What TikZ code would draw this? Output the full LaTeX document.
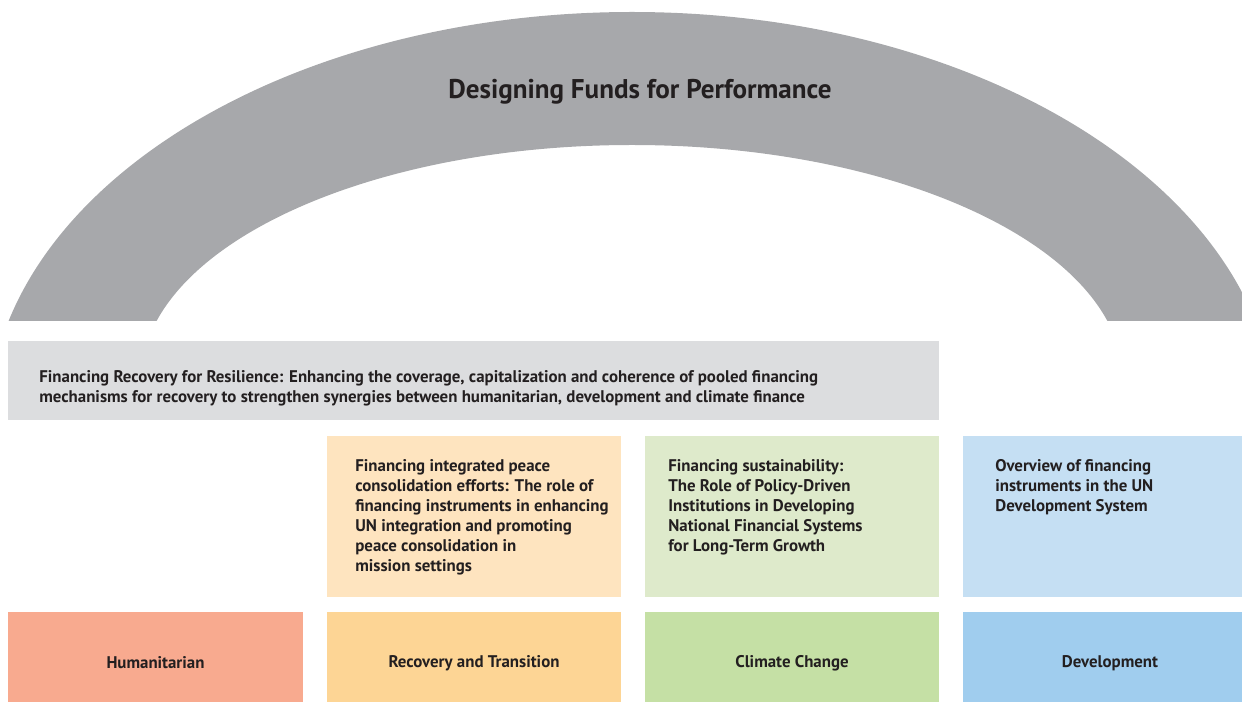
\documentclass[tikz,border=0pt]{standalone}
\usepackage{fontspec}
\setmainfont{PT Sans}
\usepackage{tikz}
\usetikzlibrary{positioning}

\definecolor{archgrey}{HTML}{A7A8AB}
\definecolor{bandgrey}{HTML}{DCDDDF}
\definecolor{peachlt}{HTML}{FEE4BF}
\definecolor{greenlt}{HTML}{DEEACB}
\definecolor{bluelt}{HTML}{C5DFF3}
\definecolor{salmon}{HTML}{F8AA8F}
\definecolor{peach}{HTML}{FDD595}
\definecolor{leaf}{HTML}{C5E0A5}
\definecolor{sky}{HTML}{A0CDEE}
\definecolor{ink}{HTML}{231F20}

\tikzset{
    cell/.style={rectangle, inner sep=0pt, text=ink, font=\bfseries\fontsize{9.6pt}{11.34pt}\selectfont},
    blurb/.style={inner sep=0pt, anchor=north west, align=left, text=ink, font=\bfseries\fontsize{9.6pt}{11.34pt}\selectfont}
}

\begin{document}
\begin{tikzpicture}[x=0.02cm, y=-0.02cm]
                                \useasboundingbox (0, 0) rectangle (1242, 702);
                                \begin{scope}
                                    \clip (0, 0) rectangle (1242, 321);
                                    \fill[archgrey, even odd rule] (632, 425) ellipse [x radius=644, y radius=413]
                                        (632, 380) ellipse [x radius=491, y radius=235];
                                \end{scope}
                                \node[text=ink, font=\bfseries\fontsize{15.4pt}{18pt}\selectfont] (title) at (640, 92) {Designing Funds for Performance};
                                \node[cell, fill=bandgrey, minimum width=18.62cm, minimum height=1.58cm] (band) at (473.5, 380.5) {};
                                \node[blurb] (bandtext) at (39, 370.5) {Financing Recovery for Resilience: Enhancing the coverage, capitalization and coherence of pooled financing\\
                                    mechanisms for recovery to strengthen synergies between humanitarian, development and climate finance};
                                \node[cell, fill=peachlt, minimum width=5.88cm, minimum height=3.22cm] (peace) at (474, 516.5) {};
                                \node[cell, fill=greenlt, minimum width=5.88cm, minimum height=3.22cm] (sustain) at (792, 516.5) {};
                                \node[cell, fill=bluelt, minimum width=5.88cm, minimum height=3.22cm] (overview) at (1110, 516.5) {};
                                \node[blurb] (peacetext) at (355, 459.5) {Financing integrated peace\\
                                    consolidation efforts: The role of\\
                                    financing instruments in enhancing\\
                                    UN integration and promoting\\
                                    peace consolidation in\\
                                    mission settings};
                                \node[blurb] (sustaintext) at (668, 459.5) {Financing sustainability:\\
                                    The Role of Policy-Driven\\
                                    Institutions in Developing\\
                                    National Financial Systems\\
                                    for Long-Term Growth};
                                \node[blurb] (overviewtext) at (995, 459.5) {Overview of financing\\
                                    instruments in the UN\\
                                    Development System};
                                \node[cell, fill=salmon, minimum width=5.9cm, minimum height=2.04cm] (hum) at (155.5, 663) {Humanitarian};
                                \node[cell, fill=peach, minimum width=5.88cm, minimum height=2.04cm] (rec) at (474, 663) {Recovery and Transition};
                                \node[cell, fill=leaf, minimum width=5.88cm, minimum height=2.04cm] (clim) at (792, 663) {Climate Change};
                                \node[cell, fill=sky, minimum width=5.88cm, minimum height=2.04cm] (dev) at (1110, 663) {Development};
                            \end{tikzpicture}
\end{document}
